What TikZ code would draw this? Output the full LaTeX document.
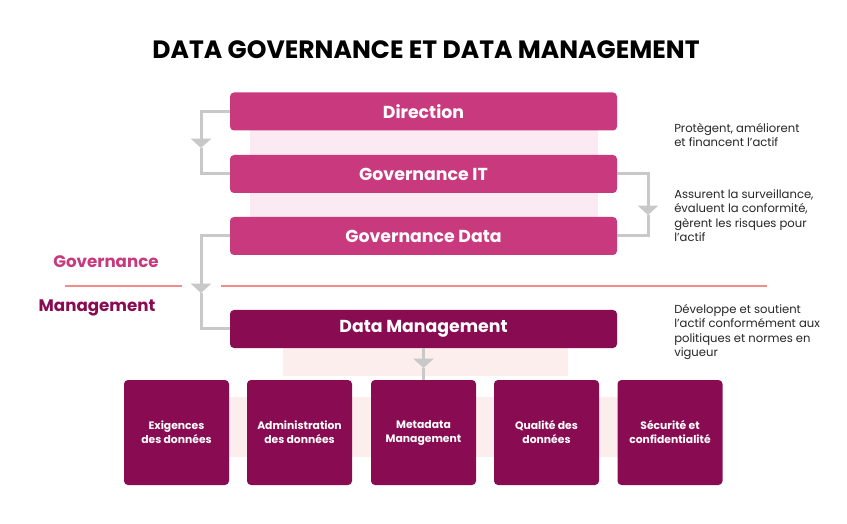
\documentclass[tikz,border=0pt]{standalone}
\usepackage{fontspec}
\setmainfont{Poppins}
\usetikzlibrary{arrows.meta}
\definecolor{pinkbox}{HTML}{C9397E}
\definecolor{darkbox}{HTML}{890C53}
\definecolor{bandA}{HTML}{FCEAF2}
\definecolor{bandB}{HTML}{FDEEEE}
\definecolor{conngray}{HTML}{C8C8C8}
\definecolor{sepred}{HTML}{F28B8B}
\begin{document}
\begin{tikzpicture}[x=0.75pt,y=-0.75pt,
  titlestyle/.style={font=\bfseries\fontsize{18.8}{21}\selectfont, text=black},
  gbox/.style={fill=pinkbox, rounded corners=3pt, minimum width=290.25pt, minimum height=28.5pt,
    text=white, font=\bfseries\fontsize{13}{15}\selectfont, inner sep=0pt},
  mbox/.style={gbox, fill=darkbox},
  sbox/.style={fill=darkbox, rounded corners=3pt, minimum width=78.75pt, minimum height=78.75pt,
    text=white, font=\bfseries\fontsize{8.1}{10.5}\selectfont, align=center, inner sep=0pt},
  note/.style={anchor=west, align=left, inner sep=0pt, text=black!85,
    font=\fontsize{8.7}{10.8}\selectfont},
  lvl/.style={font=\bfseries\fontsize{12.5}{14}\selectfont, inner sep=0pt},
  conn/.style={draw=conngray, line width=2.25pt},
  tip/.style={-{Triangle[width=15pt,length=7pt]}},
  sep/.style={draw=sepred, line width=1.5pt}
]
\useasboundingbox (0,0) rectangle (847,524);
\fill[white] (0,0) rectangle (847,524);

% background bands
\fill[bandA] (250,125) rectangle (598,222);
\fill[bandB] (283,345) rectangle (568,376);
\fill[bandB] (225,397) rectangle (622,457);

% title
\node[titlestyle] (title) at (426,50) {DATA GOVERNANCE ET DATA MANAGEMENT};

% separator lines
\draw[sep] (65,286) -- (182,286);
\draw[sep] (221,286) -- (767,286);

% level labels
\node[lvl, text=pinkbox] (lgov) at (106,262) {Governance};
\node[lvl, text=darkbox] (lman) at (97,308) {Management};

% main boxes
\node[gbox] (dir) at (423.5,111.5) {Direction};
\node[gbox] (git) at (423.5,174) {Governance IT};
\node[gbox] (gdata) at (423.5,236) {Governance Data};
\node[mbox] (dm) at (423.5,329) {Data Management};

% bottom boxes
\node[sbox] (b1) at (176.5,432.5) {Exigences\\des données};
\node[sbox] (b2) at (299.5,432.5) {Administration\\des données};
\node[sbox] (b3) at (423.5,432.5) {Metadata\\Management};
\node[sbox] (b4) at (546.5,432.5) {Qualité des\\données};
\node[sbox] (b5) at (670,432.5) {Sécurité et\\confidentialité};

% connectors
\coordinate (a1) at (201,148);
\coordinate (a2) at (648,215);
\coordinate (a3) at (201,293);
\coordinate (a4) at (423.5,368);
\draw[conn, tip] (dir.west) -| (a1);
\draw[conn] (a1) |- (git.west);
\draw[conn, tip] (git.east) -| (a2);
\draw[conn] (a2) |- (gdata.east);
\draw[conn, tip] (gdata.west) -| (a3);
\draw[conn] (a3) |- (dm.west);
\draw[conn, tip] (dm.south) -- (a4);
\draw[conn] (a4) -- (b3.north);

% notes
\node[note] (n1) at (674,135) {Protègent, améliorent\\et financent l’actif};
\node[note] (n2) at (674,215.5) {Assurent la surveillance,\\évaluent la conformité,\\gèrent les risques pour\\l’actif};
\node[note] (n3) at (674,332) {Développe et soutient\\l’actif conformément aux\\politiques et normes en\\vigueur};
\end{tikzpicture}
\end{document}
